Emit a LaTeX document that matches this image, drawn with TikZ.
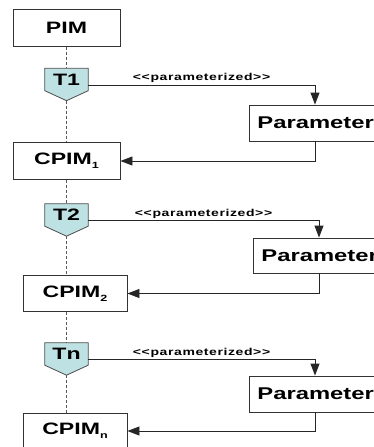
\documentclass[tikz,border=0pt]{standalone}
\usepackage{fontspec}
\setmainfont[FakeStretch=1.4]{Liberation Sans}
\newfontfamily\lblfont[FakeStretch=1.4,LetterSpace=6]{Liberation Sans}
\usetikzlibrary{arrows.meta,calc,backgrounds}

\definecolor{tcyan}{RGB}{190,225,228}
\newcommand{\idx}[1]{\raisebox{-4pt}{\fontsize{9}{9}\selectfont #1}}

\tikzset{
    model/.style={draw=black!80, line width=0.9pt, inner sep=0pt,
        minimum width=107pt, minimum height=37pt,
        font=\fontsize{16.5}{18}\selectfont\bfseries},
    param/.style={draw=black!80, line width=0.9pt, inner sep=8pt, anchor=west,
        text width=124pt, align=left, minimum height=36pt,
        font=\fontsize{17}{19}\selectfont\bfseries},
    trans/.style={inner sep=0pt, minimum width=43pt, minimum height=22pt,
        font=\fontsize{16.5}{17}\selectfont\bfseries},
    tshape/.style={fill=tcyan, draw=black!70, line width=0.8pt},
    conn/.style={draw=black!85, line width=0.9pt, -{Triangle[length=12pt,width=9pt]}},
    guide/.style={draw=black!65, line width=0.9pt, dash pattern=on 3pt off 2pt},
    lbl/.style={inner sep=1.5pt, font=\lblfont\bfseries\fontsize{10}{12}\selectfont}
}

\begin{document}
\begin{tikzpicture}[x=1pt, y=-1pt]
    \useasboundingbox (0,0) rectangle (374,447);
    \clip (0,0) rectangle (374,447);

    % models
    \node[model] (PIM) at (66.5,28) {PIM};
    \node[model] (C1) at (66.5,161) {CPIM\idx{1}};
    \node[model, minimum width=104pt, minimum height=36pt] (C2) at (75,293.5) {CPIM\idx{2}};
    \node[model, minimum width=104pt, minimum height=36pt] (Cn) at (75,431) {CPIM\idx{n}};

    % transformations
    \node[trans] (T1) at (66.5,79.5) {T1};
    \node[trans] (T2) at (66.5,215) {T2};
    \node[trans] (Tn) at (66.5,354) {Tn};
    \coordinate (T1tip) at ([yshift=-10pt]T1.south);
    \coordinate (T2tip) at ([yshift=-10pt]T2.south);
    \coordinate (Tntip) at ([yshift=-10pt]Tn.south);

    \begin{scope}[on background layer]
        \draw[tshape] (T1.north west) -- (T1.north east) -- (T1.south east) -- (T1tip) -- (T1.south west) -- cycle;
        \draw[tshape] (T2.north west) -- (T2.north east) -- (T2.south east) -- (T2tip) -- (T2.south west) -- cycle;
        \draw[tshape] (Tn.north west) -- (Tn.north east) -- (Tn.south east) -- (Tntip) -- (Tn.south west) -- cycle;
    \end{scope}

    % parameters
    \node[param] (P1) at (249,123) {Parameter};
    \node[param, minimum height=35pt] (P2) at (253,255.5) {Parameter};
    \node[param] (Pn) at (249,394) {Parameter};

    % chain
    \draw[guide] (PIM.south) -- (T1.north);
    \draw[guide] (T1tip) -- (C1.north);
    \draw[guide] (C1.south) -- (T2.north);
    \draw[guide] (T2tip) -- (T2.south |- C2.north);
    \draw[guide] (T2.south |- C2.south) -- (T2tip |- Tn.north);
    \draw[guide] (Tntip) -- (Tn.south |- Cn.north);

    % parameterization
    \draw[conn] ([yshift=-5.5pt]T1.east) -| node[lbl, above, pos=0.25] {{<}{<}parameterized{>}{>}} ($(P1.north west)+(66,0)$);
    \draw[conn] ($(P1.south west)+(66,0)$) |- (C1.east);

    \draw[conn] ([yshift=-5.5pt]T2.east) -| node[lbl, above, pos=0.25] {{<}{<}parameterized{>}{>}} ($(P2.north west)+(66,0)$);
    \draw[conn] ($(P2.south west)+(66,0)$) |- (C2.east);

    \draw[conn] ([yshift=-5.5pt]Tn.east) -| node[lbl, above, pos=0.25] {{<}{<}parameterized{>}{>}} ($(Pn.north west)+(66,0)$);
    \draw[conn] ($(Pn.south west)+(66,0)$) |- (Cn.east);
\end{tikzpicture}
\end{document}
